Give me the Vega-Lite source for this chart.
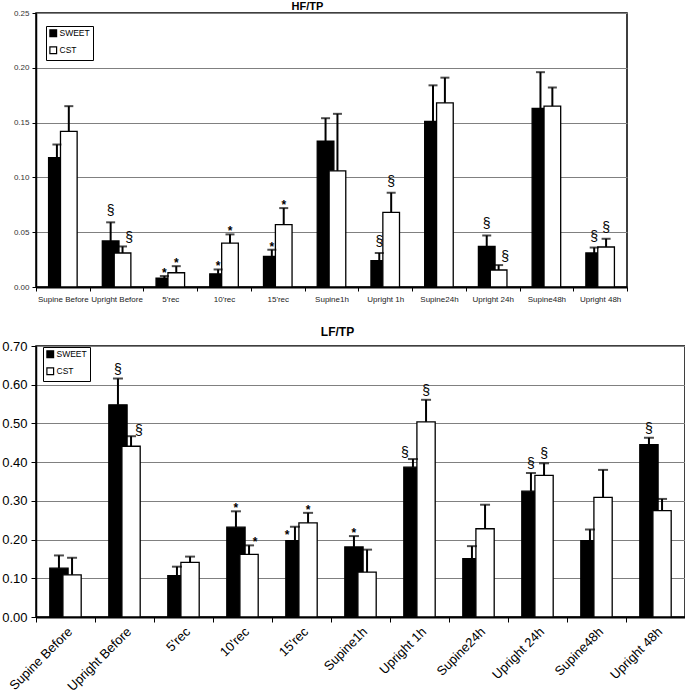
{
  "$schema": "https://vega.github.io/schema/vega-lite/v6.json",
  "padding": {"left": 0, "top": 0, "right": 0, "bottom": 0},
  "background": "white",
  "config": {
    "view": {"stroke": "black", "strokeWidth": 1.5},
    "font": "Liberation Sans",
    "axis": {"labelFont": "Liberation Sans", "labelColor": "black"},
    "legend": {"labelFont": "Liberation Sans"},
    "text": {"color": "black"}
  },
  "spacing": 21,
  "resolve": {"scale": {"fill": "independent"}, "legend": {"fill": "independent"}},
  "datasets": {
    "hf": [
      {"cat": "Supine Before", "series": "SWEET", "value": 0.118, "upper": 0.130},
      {"cat": "Upright Before", "series": "SWEET", "value": 0.042, "upper": 0.059, "mark": "§", "place": "above"},
      {"cat": "5'rec", "series": "SWEET", "value": 0.008, "upper": 0.010, "mark": "*", "place": "above"},
      {"cat": "10'rec", "series": "SWEET", "value": 0.012, "upper": 0.016, "mark": "*", "place": "above"},
      {"cat": "15'rec", "series": "SWEET", "value": 0.028, "upper": 0.034, "mark": "*", "place": "above"},
      {"cat": "Supine1h", "series": "SWEET", "value": 0.133, "upper": 0.154},
      {"cat": "Upright 1h", "series": "SWEET", "value": 0.024, "upper": 0.031, "mark": "§", "place": "above"},
      {"cat": "Supine24h", "series": "SWEET", "value": 0.151, "upper": 0.184},
      {"cat": "Upright 24h", "series": "SWEET", "value": 0.037, "upper": 0.047, "mark": "§", "place": "above"},
      {"cat": "Supine48h", "series": "SWEET", "value": 0.163, "upper": 0.196},
      {"cat": "Upright 48h", "series": "SWEET", "value": 0.031, "upper": 0.036, "mark": "§", "place": "above"},
      {"cat": "Supine Before", "series": "CST", "value": 0.142, "upper": 0.165},
      {"cat": "Upright Before", "series": "CST", "value": 0.031, "upper": 0.037, "mark": "§", "place": "right"},
      {"cat": "5'rec", "series": "CST", "value": 0.013, "upper": 0.019, "mark": "*", "place": "above"},
      {"cat": "10'rec", "series": "CST", "value": 0.040, "upper": 0.048, "mark": "*", "place": "above"},
      {"cat": "15'rec", "series": "CST", "value": 0.057, "upper": 0.072, "mark": "*", "place": "above"},
      {"cat": "Supine1h", "series": "CST", "value": 0.106, "upper": 0.158},
      {"cat": "Upright 1h", "series": "CST", "value": 0.068, "upper": 0.086, "mark": "§", "place": "above"},
      {"cat": "Supine24h", "series": "CST", "value": 0.168, "upper": 0.191},
      {"cat": "Upright 24h", "series": "CST", "value": 0.0155, "upper": 0.020, "mark": "§", "place": "right"},
      {"cat": "Supine48h", "series": "CST", "value": 0.165, "upper": 0.182},
      {"cat": "Upright 48h", "series": "CST", "value": 0.0365, "upper": 0.044, "mark": "§", "place": "above"}
    ],
    "lf": [
      {"cat": "Supine Before", "series": "SWEET", "value": 0.126, "upper": 0.159},
      {"cat": "Upright Before", "series": "SWEET", "value": 0.548, "upper": 0.616, "mark": "§", "place": "above"},
      {"cat": "5'rec", "series": "SWEET", "value": 0.107, "upper": 0.130},
      {"cat": "10'rec", "series": "SWEET", "value": 0.232, "upper": 0.273, "mark": "*", "place": "above"},
      {"cat": "15'rec", "series": "SWEET", "value": 0.197, "upper": 0.233, "mark": "*", "place": "left"},
      {"cat": "Supine1h", "series": "SWEET", "value": 0.181, "upper": 0.209, "mark": "*", "place": "above"},
      {"cat": "Upright 1h", "series": "SWEET", "value": 0.387, "upper": 0.408, "mark": "§", "place": "left"},
      {"cat": "Supine24h", "series": "SWEET", "value": 0.151, "upper": 0.183},
      {"cat": "Upright 24h", "series": "SWEET", "value": 0.325, "upper": 0.372, "mark": "§", "place": "above"},
      {"cat": "Supine48h", "series": "SWEET", "value": 0.197, "upper": 0.226},
      {"cat": "Upright 48h", "series": "SWEET", "value": 0.445, "upper": 0.463, "mark": "§", "place": "above"},
      {"cat": "Supine Before", "series": "CST", "value": 0.109, "upper": 0.153},
      {"cat": "Upright Before", "series": "CST", "value": 0.441, "upper": 0.467, "mark": "§", "place": "right"},
      {"cat": "5'rec", "series": "CST", "value": 0.141, "upper": 0.156},
      {"cat": "10'rec", "series": "CST", "value": 0.162, "upper": 0.185, "mark": "*", "place": "right"},
      {"cat": "15'rec", "series": "CST", "value": 0.243, "upper": 0.269, "mark": "*", "place": "above"},
      {"cat": "Supine1h", "series": "CST", "value": 0.116, "upper": 0.174},
      {"cat": "Upright 1h", "series": "CST", "value": 0.504, "upper": 0.561, "mark": "§", "place": "above"},
      {"cat": "Supine24h", "series": "CST", "value": 0.228, "upper": 0.290},
      {"cat": "Upright 24h", "series": "CST", "value": 0.366, "upper": 0.397, "mark": "§", "place": "above"},
      {"cat": "Supine48h", "series": "CST", "value": 0.309, "upper": 0.380},
      {"cat": "Upright 48h", "series": "CST", "value": 0.275, "upper": 0.305}
    ]
  },
  "vconcat": [
    {
      "width": 591,
      "height": 274,
      "title": {"text": "HF/TP", "anchor": "middle", "fontSize": 11, "fontWeight": "bold", "font": "Liberation Sans", "dx": -24, "offset": -3},
      "data": {"name": "hf"},
      "encoding": {
        "x": {"field": "cat", "type": "nominal", "sort": null, "title": null, "scale": {"paddingInner": 0, "paddingOuter": 0},
          "axis": {"labelAngle": 0, "labelFontSize": 8, "labelColor": "#222", "tickBand": "extent", "tickColor": "black", "tickSize": 4, "domainColor": "black", "domainWidth": 2, "labelPadding": 4}},
        "y": {"field": "value", "type": "quantitative", "stack": null, "title": null, "scale": {"domain": [0, 0.25]},
          "axis": {"values": [0, 0.05, 0.1, 0.15, 0.2, 0.25], "format": ".2f", "labelFontSize": 8, "labelColor": "#333", "grid": true, "gridColor": "#808080", "gridWidth": 1, "tickSize": 4, "tickColor": "black", "domainColor": "black", "domainWidth": 1.5, "labelPadding": 3}}
      },
      "layer": [
        {"transform": [{"filter": "datum.series=='SWEET'"}],
          "mark": {"type": "bar", "width": {"band": 0.31}, "xOffset": -5.95, "stroke": "black", "strokeWidth": 1.3},
          "encoding": {
            "fill": {"field": "series", "type": "nominal", "scale": {"domain": ["SWEET", "CST"], "range": ["black", "white"]},
            "legend": {"title": null, "orient": "none", "legendX": 10, "legendY": 13, "fillColor": "white", "strokeColor": "black", "padding": 3, "symbolType": "square", "symbolSize": 45, "symbolStrokeColor": "black", "symbolStrokeWidth": 1.2, "labelFontSize": 8.5, "rowPadding": 4, "labelOffset": 2}}}},
        {"transform": [{"filter": "datum.series=='CST'"}],
          "mark": {"type": "bar", "width": {"band": 0.31}, "xOffset": 5.95, "stroke": "black", "strokeWidth": 1.3},
          "encoding": {
            "fill": {"field": "series", "type": "nominal", "scale": {"domain": ["SWEET", "CST"], "range": ["black", "white"]}}}},
        {"transform": [{"filter": "datum.series=='SWEET'"}],
          "mark": {"type": "rule", "color": "black", "strokeWidth": 2, "xOffset": -5.95},
          "encoding": {"y": {"field": "upper", "type": "quantitative"}, "y2": {"field": "value"}}},
        {"transform": [{"filter": "datum.series=='CST'"}],
          "mark": {"type": "rule", "color": "black", "strokeWidth": 2, "xOffset": 5.95},
          "encoding": {"y": {"field": "upper", "type": "quantitative"}, "y2": {"field": "value"}}},
        {"transform": [{"filter": "datum.series=='SWEET'"}],
          "mark": {"type": "tick", "color": "black", "thickness": 2, "size": 9, "xOffset": -5.95},
          "encoding": {"y": {"field": "upper", "type": "quantitative"}}},
        {"transform": [{"filter": "datum.series=='CST'"}],
          "mark": {"type": "tick", "color": "black", "thickness": 2, "size": 9, "xOffset": 5.95},
          "encoding": {"y": {"field": "upper", "type": "quantitative"}}},
        {"transform": [{"filter": "datum.series=='SWEET' && datum.mark=='§' && datum.place=='above'"}],
          "mark": {"type": "text", "color": "black", "fontSize": 14, "xOffset": -5.95, "dy": -7, "baseline": "alphabetic"},
          "encoding": {"y": {"field": "upper", "type": "quantitative"}, "text": {"field": "mark"}}},
        {"transform": [{"filter": "datum.series=='CST' && datum.mark=='§' && datum.place=='above'"}],
          "mark": {"type": "text", "color": "black", "fontSize": 14, "xOffset": 5.95, "dy": -7, "baseline": "alphabetic"},
          "encoding": {"y": {"field": "upper", "type": "quantitative"}, "text": {"field": "mark"}}},
        {"transform": [{"filter": "datum.series=='CST' && datum.mark=='§' && datum.place=='right'"}],
          "mark": {"type": "text", "color": "black", "fontSize": 14, "xOffset": 12.5, "dy": -4, "baseline": "alphabetic"},
          "encoding": {"y": {"field": "upper", "type": "quantitative"}, "text": {"field": "mark"}}},
        {"transform": [{"filter": "datum.series=='SWEET' && datum.mark=='*' && datum.place=='above'"}],
          "mark": {"type": "text", "color": "black", "fontSize": 12, "fontWeight": "bold", "xOffset": -5.95, "dy": 1, "baseline": "alphabetic"},
          "encoding": {"y": {"field": "upper", "type": "quantitative"}, "text": {"field": "mark"}}},
        {"transform": [{"filter": "datum.series=='CST' && datum.mark=='*' && datum.place=='above'"}],
          "mark": {"type": "text", "color": "black", "fontSize": 12, "fontWeight": "bold", "xOffset": 5.95, "dy": 1, "baseline": "alphabetic"},
          "encoding": {"y": {"field": "upper", "type": "quantitative"}, "text": {"field": "mark"}}}
      ]
    },
    {
      "width": 649,
      "height": 271,
      "title": {"text": "LF/TP", "anchor": "middle", "fontSize": 12, "fontWeight": "bold", "font": "Liberation Sans", "dx": -23, "offset": 1},
      "data": {"name": "lf"},
      "encoding": {
        "x": {"field": "cat", "type": "nominal", "sort": null, "title": null,
          "scale": {"paddingInner": 0, "paddingOuter": 0},
          "axis": {"labelAngle": -45, "labelFontSize": 13, "tickBand": "extent", "tickColor": "black", "tickSize": 5, "domainColor": "black", "domainWidth": 2, "labelPadding": 3}},
        "y": {"field": "value", "type": "quantitative", "stack": null, "title": null, "scale": {"domain": [0, 0.7]},
          "axis": {"values": [0, 0.1, 0.2, 0.3, 0.4, 0.5, 0.6, 0.7], "format": ".2f", "labelFontSize": 13, "grid": true, "gridColor": "#808080", "gridWidth": 1, "tickSize": 5, "tickColor": "black", "domainColor": "black", "domainWidth": 1.5, "labelPadding": 4}}
      },
      "layer": [
        {"transform": [{"filter": "datum.series=='SWEET'"}],
          "mark": {"type": "bar", "width": {"band": 0.31}, "xOffset": -6.55, "stroke": "black", "strokeWidth": 1.3},
          "encoding": {"fill": {"field": "series", "type": "nominal", "scale": {"domain": ["SWEET", "CST"], "range": ["black", "white"]},
            "legend": {"title": null, "orient": "none", "legendX": 7, "legendY": 1, "fillColor": "white", "strokeColor": "black", "padding": 3, "symbolType": "square", "symbolSize": 45, "symbolStrokeColor": "black", "symbolStrokeWidth": 1.2, "labelFontSize": 8.5, "rowPadding": 4, "labelOffset": 2}}}},
        {"transform": [{"filter": "datum.series=='CST'"}],
          "mark": {"type": "bar", "width": {"band": 0.31}, "xOffset": 6.55, "stroke": "black", "strokeWidth": 1.3},
          "encoding": {"fill": {"field": "series", "type": "nominal", "scale": {"domain": ["SWEET", "CST"], "range": ["black", "white"]}}}},
        {"transform": [{"filter": "datum.series=='SWEET'"}],
          "mark": {"type": "rule", "color": "black", "strokeWidth": 2, "xOffset": -6.55},
          "encoding": {"y": {"field": "upper", "type": "quantitative"}, "y2": {"field": "value"}}},
        {"transform": [{"filter": "datum.series=='CST'"}],
          "mark": {"type": "rule", "color": "black", "strokeWidth": 2, "xOffset": 6.55},
          "encoding": {"y": {"field": "upper", "type": "quantitative"}, "y2": {"field": "value"}}},
        {"transform": [{"filter": "datum.series=='SWEET'"}],
          "mark": {"type": "tick", "color": "black", "thickness": 2, "size": 10, "xOffset": -6.55},
          "encoding": {"y": {"field": "upper", "type": "quantitative"}}},
        {"transform": [{"filter": "datum.series=='CST'"}],
          "mark": {"type": "tick", "color": "black", "thickness": 2, "size": 10, "xOffset": 6.55},
          "encoding": {"y": {"field": "upper", "type": "quantitative"}}},
        {"transform": [{"filter": "datum.series=='SWEET' && datum.mark=='§' && datum.place=='above'"}],
          "mark": {"type": "text", "color": "black", "fontSize": 14, "xOffset": -6.55, "dy": -5, "baseline": "alphabetic"},
          "encoding": {"y": {"field": "upper", "type": "quantitative"}, "text": {"field": "mark"}}},
        {"transform": [{"filter": "datum.series=='CST' && datum.mark=='§' && datum.place=='above'"}],
          "mark": {"type": "text", "color": "black", "fontSize": 14, "xOffset": 6.55, "dy": -5, "baseline": "alphabetic"},
          "encoding": {"y": {"field": "upper", "type": "quantitative"}, "text": {"field": "mark"}}},
        {"transform": [{"filter": "datum.series=='CST' && datum.mark=='§' && datum.place=='right'"}],
          "mark": {"type": "text", "color": "black", "fontSize": 14, "xOffset": 14.5, "dy": -1, "baseline": "alphabetic"},
          "encoding": {"y": {"field": "upper", "type": "quantitative"}, "text": {"field": "mark"}}},
        {"transform": [{"filter": "datum.series=='SWEET' && datum.mark=='§' && datum.place=='left'"}],
          "mark": {"type": "text", "color": "black", "fontSize": 14, "xOffset": -14.5, "dy": -2, "baseline": "alphabetic"},
          "encoding": {"y": {"field": "upper", "type": "quantitative"}, "text": {"field": "mark"}}},
        {"transform": [{"filter": "datum.series=='SWEET' && datum.mark=='*' && datum.place=='above'"}],
          "mark": {"type": "text", "color": "black", "fontSize": 12, "fontWeight": "bold", "xOffset": -6.55, "dy": 1, "baseline": "alphabetic"},
          "encoding": {"y": {"field": "upper", "type": "quantitative"}, "text": {"field": "mark"}}},
        {"transform": [{"filter": "datum.series=='CST' && datum.mark=='*' && datum.place=='above'"}],
          "mark": {"type": "text", "color": "black", "fontSize": 12, "fontWeight": "bold", "xOffset": 6.55, "dy": 1, "baseline": "alphabetic"},
          "encoding": {"y": {"field": "upper", "type": "quantitative"}, "text": {"field": "mark"}}},
        {"transform": [{"filter": "datum.series=='CST' && datum.mark=='*' && datum.place=='right'"}],
          "mark": {"type": "text", "color": "black", "fontSize": 12, "fontWeight": "bold", "xOffset": 12.5, "dy": 1, "baseline": "alphabetic"},
          "encoding": {"y": {"field": "upper", "type": "quantitative"}, "text": {"field": "mark"}}},
        {"transform": [{"filter": "datum.series=='SWEET' && datum.mark=='*' && datum.place=='left'"}],
          "mark": {"type": "text", "color": "black", "fontSize": 12, "fontWeight": "bold", "xOffset": -14.5, "dy": 12, "baseline": "alphabetic"},
          "encoding": {"y": {"field": "upper", "type": "quantitative"}, "text": {"field": "mark"}}}
      ]
    }
  ]
}
